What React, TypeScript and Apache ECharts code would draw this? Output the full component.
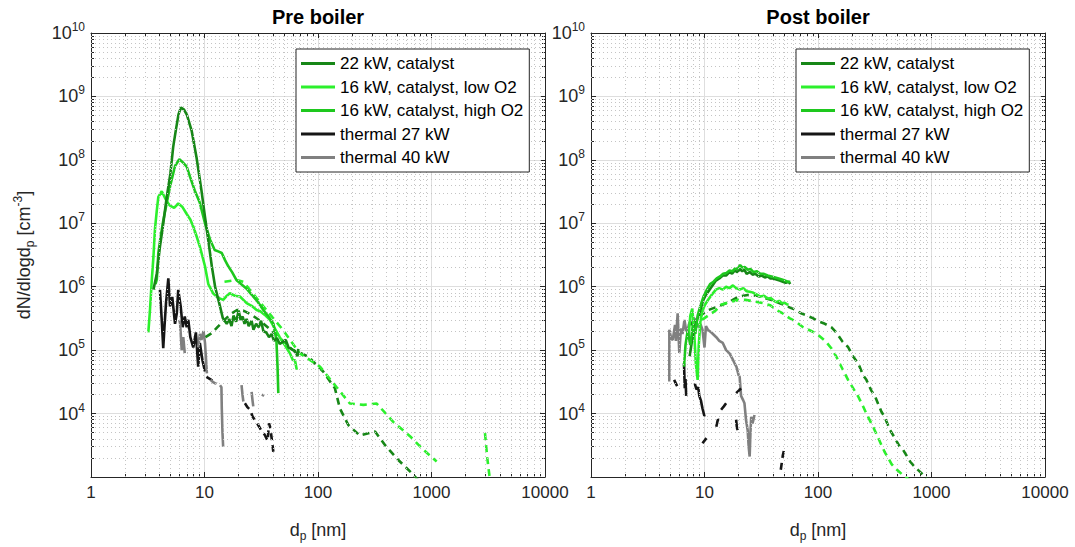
import React, { useEffect, useRef } from "react";
import * as echarts from "echarts";

type Pt = [number, number] | null;

const FONT = "'Liberation Sans', Arial, Helvetica, sans-serif";

// Axis decades and minor grid multipliers
const xTicks = [1, 10, 100, 1000, 10000];
const yTicks = [1e3, 1e4, 1e5, 1e6, 1e7, 1e8, 1e9, 1e10];
const minorSteps = [2, 3, 4, 5, 6, 7, 8, 9];

const panelTitles = ["Pre boiler", "Post boiler"];
const legendNames = [
  "22 kW, catalyst",
  "16 kW, catalyst, low O2",
  "16 kW, catalyst, high O2",
  "thermal 27 kW",
  "thermal 40 kW",
];
const lineColors = ["#178717", "#2cf02c", "#1ec81e", "#161616", "#808080"];

// ---------- Pre boiler: [d_p (nm), dN/dlogd_p (cm^-3)] ----------
const pre22Solid: Pt[] = [
  [3.55, 9e5], [3.8, 1.6e6], [4.05, 4.3e6], [4.3, 9e6], [4.65, 2.6e7], [5.0, 6e7], [5.3, 1.6e8],
  [5.6, 3e8], [5.9, 5.2e8], [6.2, 6.7e8], [6.6, 6.2e8], [7.0, 5.1e8], [7.7, 2.9e8], [8.5, 1.1e8],
  [9.4, 3.3e7], [10.1, 1.26e7], [10.8, 5.4e6], [11.6, 2.1e6], [12.4, 1e6], [13.7, 4.9e5],
  [14.5, 3.2e5], [15.7, 2.6e5], [16.5, 3.1e5], [17.3, 2.4e5], [18, 3.5e5], [19, 2.8e5],
  [20, 4.2e5], [20.8, 3e5], [21.7, 3.4e5], [22.5, 2.6e5], [23.5, 3.1e5], [24.5, 2.4e5],
  [26, 2.9e5], [27, 2.1e5], [28.5, 2.6e5], [30, 2.3e5], [31.5, 2.9e5], [33, 2e5], [35, 1.9e5],
  [37, 1.6e5], [39, 1.8e5], [41, 1.4e5], [43.5, 1.55e5], [46, 1.25e5], [49, 1.35e5],
  [52, 1.45e5], [55, 1.1e5], [58, 1.05e5], [61, 1e5], [64, 9e4], [66, 8e4], [67, 1.05e5],
];
const pre16LowSolid: Pt[] = [
  [3.2, 1.9e5], [3.3, 4e5], [3.43, 1.25e6], [3.55, 3e6], [3.66, 8e6], [3.8, 1.6e7], [3.92, 2.6e7],
  [4.2, 3.2e7], [4.49, 2.5e7], [4.75, 2.1e7], [4.97, 1.9e7], [5.4, 1.75e7], [5.87, 2.05e7],
  [6.4, 1.8e7], [6.97, 1.4e7], [7.5, 1.15e7], [7.96, 8.9e6], [8.5, 6.3e6], [9.1, 4.3e6],
  [10.1, 2.1e6], [10.8, 1.1e6], [11.9, 7.9e5], [13, 6.8e5], [14.6, 6.2e5], [15.5, 7e5],
  [16.7, 7.9e5], [18.5, 7.2e5], [20.5, 7e5], [22, 6.2e5], [23.5, 5.5e5], [26, 5e5],
  [28.8, 4.3e5], [31, 4.1e5], [34, 3.6e5], [37.7, 3e5], [41, 2.3e5], [46, 1.6e5], [51, 1.2e5],
  [56.6, 8.9e4], [60, 7e4], [62.7, 6.9e4], [65, 4.9e4],
];
const pre16HighSolid: Pt[] = [
  [3.7, 1.1e6], [3.8, 1.3e6], [3.92, 3.4e6], [4.1, 6e6], [4.33, 1.1e7], [4.6, 1.9e7],
  [4.97, 3.8e7], [5.5, 8e7], [6.0, 1.02e8], [6.5, 9e7], [6.97, 7.8e7], [7.46, 5.4e7],
  [8.2, 3.3e7], [9.1, 2.1e7], [10.1, 1e7], [11.2, 5.5e6], [12.3, 3.8e6], [13.2, 3.6e6],
  [14.2, 3.4e6], [15.2, 2.6e6], [16.2, 2.1e6], [17.5, 1.7e6], [19.2, 1.26e6], [21, 1.1e6],
  [23.5, 9.3e5], [26, 7.5e5], [28.8, 6.1e5], [33, 4.3e5], [37, 3.3e5], [40.5, 2.6e5],
  [43, 1.45e5], [44, 5.5e4], [44.7, 2.1e4],
];
const pre27Solid: Pt[] = [
  [4.05, 8.9e5], [4.2, 3e5], [4.33, 1.07e5], [4.45, 2.5e5], [4.58, 5.5e5], [4.8, 1.35e6],
  [4.97, 4.9e5], [5.2, 6.9e5], [5.5, 2.6e5], [5.7, 3.8e5], [5.87, 8.9e5], [6.17, 4.9e5],
  [6.42, 2.3e5], [6.7, 3.4e5], [6.97, 2.3e5], [7.2, 3e5], [7.5, 1.6e5], [7.96, 1.1e5],
  [8.4, 1.9e5], [8.8, 5.5e4], [9.1, 1.3e5], [9.6, 6.9e4], [10.1, 4.6e4],
];
const pre40Solid: Pt[] = [
  [6.0, 3e5], [6.1, 2.6e5], [6.3, 1e5], [6.5, 1.6e5], [6.7, 9e4], null,
  [8.8, 1.1e5], [9.1, 1.8e5], [9.4, 1.45e5], [9.8, 2e5], [10.1, 1.3e5], [10.5, 4.3e4], null,
  [13.7, 2.8e4], [14.1, 2.6e4], [14.2, 1.2e4], [14.4, 5e3], [14.6, 3e3], null,
  [21.2, 2.8e4], [21.6, 2e4], [22, 1.55e4], null,
  [26, 2.2e4], [26.5, 1.6e4], [26.9, 1.3e4],
];
const pre22Dash: Pt[] = [
  [10.2, 1.6e5], [11.6, 1.85e5], [13, 2.3e5], [15, 3e5], [17, 3.7e5], [19.5, 4.3e5], [22, 4.2e5],
  [26, 3.6e5], [31, 2.9e5], [37, 2.2e5], [44, 1.7e5], [52, 1.25e5], [60, 1e5], [70, 9e4],
  [82, 7.9e4], [111, 4.6e4], [141, 2.5e4], [156, 1.2e4], [185, 6.6e3], [234, 4.5e3],
  [318, 5.2e3], [389, 3.2e3], [510, 1.85e3], [670, 1.15e3], [760, 9e2],
];
const pre16LowDash: Pt[] = [
  [15, 1.2e6], [17.5, 1.25e6], [20, 1.25e6], [22, 1.2e6], [25, 9e5], [33, 4.9e5], [49, 2.1e5],
  [69, 8.9e4], [104, 5.5e4], [146, 2.6e4], [191, 1.44e4], [251, 1.37e4], [329, 1.44e4],
  [460, 7.4e3], [646, 4.4e3], [847, 2.7e3], [1110, 1.75e3], null,
  [2960, 4.9e3], [3100, 2e3], [3300, 8e2],
];
const pre27Dash: Pt[] = [
  [10.4, 3.8e4], [11.2, 3.5e4], [12, 3.2e4], [12.8, 3e4], null,
  [22.7, 1.45e4], [24, 1.25e4], [25.2, 1.15e4], [26.5, 9e3], [27.8, 7.9e3], [29.7, 6.6e3],
  [31.5, 5.5e3], [34, 4.6e3], [36, 3.7e3], [37, 7e3], [38, 6e3], [40.4, 2.5e3],
];
const pre40Dash: Pt[] = [
  [11.3, 3.4e4], [12, 3.1e4], [13.2, 2.8e4], null, [32, 2e4], [33.5, 1.9e4],
];

// ---------- Post boiler ----------
const post22Solid: Pt[] = [
  [7.4, 8e4], [7.8, 1.5e5], [8.2, 2.3e5], [8.7, 3.2e5], [9.2, 4.3e5], [9.7, 6e5], [10.3, 7.5e5],
  [11.1, 9e5], [11.8, 1.05e6], [12.6, 1.25e6], [13.5, 1.35e6], [14.5, 1.5e6], [15.5, 1.5e6],
  [16.6, 1.7e6], [17.5, 1.6e6], [18.5, 1.8e6], [19.5, 1.7e6], [20.5, 1.9e6], [21.5, 1.75e6],
  [22.5, 1.85e6], [23.5, 1.6e6], [25, 1.7e6], [26.5, 1.55e6], [28, 1.6e6], [30, 1.45e6],
  [32, 1.5e6], [34, 1.4e6], [36, 1.45e6], [38, 1.35e6], [40, 1.35e6], [43, 1.3e6],
  [46, 1.25e6], [49, 1.2e6], [52, 1.15e6], [55, 1.2e6], [57, 1.1e6],
];
const post16HighSolid: Pt[] = [
  [6.6, 5.5e4], [6.8, 1.2e5], [7.1, 2e5], [7.5, 1.2e5], [7.9, 2.5e5], [8.3, 1.8e5], [8.7, 3.5e5],
  [9.2, 5e5], [9.8, 7e5], [10.5, 9e5], [11.2, 1.1e6], [12, 1.2e6], [12.8, 1.35e6], [13.7, 1.45e6],
  [14.6, 1.6e6], [15.6, 1.65e6], [16.6, 1.8e6], [17.6, 1.75e6], [18.6, 1.95e6], [19.6, 1.9e6],
  [20.6, 2.2e6], [21.6, 2e6], [22.6, 2.05e6], [24, 1.85e6], [25.5, 1.9e6], [27, 1.7e6],
  [29, 1.75e6], [31, 1.6e6], [33, 1.6e6], [36, 1.5e6], [39, 1.45e6], [42, 1.4e6], [45, 1.35e6],
  [48, 1.3e6], [51, 1.25e6], [54, 1.2e6], [57, 1.2e6],
];
const post16LowSolid: Pt[] = [
  [7.2, 1.5e5], [7.5, 3.5e5], [7.8, 4.5e5], [8.1, 2e5], [8.4, 6e4], [8.7, 3.4e4], [8.9, 1.2e5],
  [9.2, 2.8e5], [9.6, 4.2e5], [10.1, 5.2e5], [10.8, 6.3e5], [11.6, 7.5e5], [12.6, 9e5],
  [13.5, 9.5e5], [14.5, 9e5], [15.5, 1e6], [16.6, 9.5e5], [17.8, 1.05e6], [19, 9.5e5],
  [20.4, 9e5], [22, 9.5e5], [23.5, 8.5e5], [25, 8.3e5], [27, 8e5], [29, 7.5e5], [31, 7e5],
  [33.5, 7.2e5], [36, 6.5e5], [38.5, 6.6e5], [41, 6e5], [43, 5.7e5], [45.5, 6e5], [48, 5.5e5],
  [50.5, 5.6e5], [53, 5.3e5], [55, 5.2e5],
];
const post27Solid: Pt[] = [
  [6.6, 6.2e4], [6.7, 2.5e4], [6.8, 3.5e4], [6.9, 1.9e4], null,
  [8.2, 3e4], [8.5, 2.4e4], [8.8, 2.6e4], [9.0, 1.9e4], [9.3, 1.6e4], [9.6, 1.2e4], [10, 9e3], null,
  [12.7, 6.2e3], [13.1, 8e3], [13.5, 7.9e3], null,
  [14, 1.15e4], [14.8, 1.3e4], [15.5, 1.45e4], null,
  [19, 8e3], [19.3, 6e3], [19.6, 5.5e3],
];
const post40Solid: Pt[] = [
  [4.9, 3.2e4], [4.9, 2.1e5], [5.1, 1.5e5], [5.25, 1.45e5], [5.5, 2.5e5], [5.6, 1.4e5],
  [5.8, 3.8e5], [6.0, 9e4], [6.2, 2.2e5], [6.4, 1.8e5], [6.66, 3e5], [6.9, 2e5], [7.1, 2.1e5],
  [7.4, 2.8e5], [7.6, 2.5e5], [8.0, 3.2e5], [8.4, 3e5], [8.8, 2.3e5], [9.2, 2.6e5], [9.6, 2.1e5],
  [10, 1.1e5], [10.3, 2.4e5], [10.7, 2.1e5], [11.5, 1.9e5], [12.7, 1.6e5], [13.5, 1.4e5],
  [14.5, 1.3e5], [15.5, 1e5], [16.6, 8.9e4], [17.5, 7.5e4], [18.4, 6.2e4], [19.1, 5.5e4],
  [20, 4e4], [20.4, 3.8e4], [21, 1.9e4], [22, 1.6e4], [22.5, 1.45e4], [23.2, 8e3], [24, 5.5e3],
  [24.5, 3e3], [25, 2.1e3], [25.4, 5e3], [25.8, 8.9e3], [26.5, 7e3], [27.6, 9.5e3],
];
const post22Dash: Pt[] = [
  [7.5, 2.5e5], [9, 3.4e5], [10.5, 4.2e5], [12, 4.6e5], [14, 5.1e5], [16.6, 5.8e5], [20, 7e5],
  [24, 7.4e5], [29, 7.2e5], [34, 6.6e5], [39, 6.2e5], [46, 5.5e5], [51, 5.1e5], [58, 4.6e5],
  [64, 4.3e5], [71, 3.8e5], [80, 3.5e5], [90, 3.2e5], [103, 2.8e5], [115, 2.6e5], [131, 2.3e5],
  [145, 1.9e5], [165, 1.35e5], [184, 1.12e5], [203, 8e4], [226, 6.2e4], [250, 4e4],
  [267, 3.4e4], [295, 2.3e4], [317, 1.9e4], [362, 1.07e4], [386, 8.9e3], [431, 5.5e3],
  [458, 4.6e3], [525, 3e3], [560, 2.7e3], [650, 1.74e3], [710, 1.45e3], [815, 1.15e3],
  [900, 9.5e2],
];
const post16LowDash: Pt[] = [
  [8, 2.2e5], [9.5, 3e5], [11, 3.6e5], [12.5, 4.2e5], [14, 5.2e5], [16, 5.6e5], [20, 6.2e5],
  [23, 6.2e5], [28, 5.8e5], [33, 5.5e5], [38, 5.1e5], [43, 4.3e5], [49, 3.8e5], [56, 3.2e5],
  [64, 2.8e5], [74, 2.3e5], [90, 1.95e5], [100, 1.74e5], [118, 1.35e5], [131, 1.07e5],
  [145, 7.9e4], [155, 6.2e4], [172, 4.3e4], [184, 3.4e4], [210, 2.3e4], [226, 1.86e4],
  [250, 1.29e4], [267, 1e4], [305, 6.2e3], [325, 4.9e3], [362, 3.2e3], [386, 2.5e3],
  [445, 1.6e3], [475, 1.4e3], [560, 1.07e3], [640, 9e2],
];
const post27Dash: Pt[] = [
  [5.4, 3.4e4], [5.8, 2.6e4], null, [9.6, 3.4e3], [10.4, 4.1e3], null,
  [19, 2.1e4], [21, 2.5e4], null, [47, 1.3e3], [49, 2.2e3], [51, 3e3],
];

const minorX = xTicks.slice(0, -1).flatMap((t) => minorSteps.map((m) => t * m));
const minorY = yTicks.slice(0, -1).flatMap((t) => minorSteps.map((m) => t * m));

const toData = (pts: Pt[]) => pts.map((p) => (p ? p : ["-", "-"]));

const AXIS_COLOR = "#262626";
const TICK_FONT = 17;

function curve(idx: number, pts: Pt[], dashed: boolean, panel: number) {
  return {
    type: "line",
    name: legendNames[idx],
    xAxisIndex: panel * 2,
    yAxisIndex: panel * 2,
    data: toData(pts),
    symbol: "none",
    showSymbol: false,
    connectNulls: false,
    silent: true,
    z: 3,
    color: lineColors[idx],
    itemStyle: { color: lineColors[idx] },
    lineStyle: { color: lineColors[idx], width: 2.6, type: dashed ? [7, 5] : "solid" },
  };
}

function gridSeries(panel: number) {
  return {
    type: "line",
    name: "minor-grid-" + panel,
    xAxisIndex: panel * 2,
    yAxisIndex: panel * 2,
    data: [],
    z: 1,
    silent: true,
    markLine: {
      silent: true,
      symbol: ["none", "none"],
      label: { show: false },
      animation: false,
      lineStyle: { color: "#c4c4c4", type: [1, 3], width: 1 },
      data: [
        ...minorX.map((v) => ({ xAxis: v })),
        ...minorY.map((v) => ({ yAxis: v })),
      ],
    },
  };
}

const grids = [
  { left: 91, top: 33, width: 454, height: 444 },
  { left: 591, top: 33, width: 454, height: 444 },
];

const tickCommon = {
  axisLine: { show: true, lineStyle: { color: AXIS_COLOR, width: 1 } },
  axisTick: { show: true, inside: true, length: 5, lineStyle: { color: AXIS_COLOR } },
  minorTick: { show: true, splitNumber: 9, length: 3, lineStyle: { color: AXIS_COLOR } },
};

function xAxes(panel: number) {
  const base = {
    type: "log",
    logBase: 10,
    min: 1,
    max: 10000,
    gridIndex: panel,
    splitNumber: 10,
    ...tickCommon,
  };
  return [
    {
      ...base,
      position: "bottom",
      axisLabel: {
        show: true,
        fontSize: TICK_FONT,
        color: AXIS_COLOR,
        fontFamily: FONT,
        margin: 7,
        formatter: (v: number) => String(Math.round(v)),
      },
      splitLine: { show: true, lineStyle: { color: "#dedede", width: 1 } },
      name: "{a|d}{s|p}{a| [nm]}",
      nameLocation: "middle",
      nameGap: 40,
      nameTextStyle: {
        rich: {
          a: { fontSize: 18, color: AXIS_COLOR, fontFamily: FONT },
          s: { fontSize: 12, color: AXIS_COLOR, fontFamily: FONT, padding: [13, 0, 0, 0] },
        },
      },
    },
    {
      ...base,
      position: "top",
      axisLabel: { show: false },
      splitLine: { show: false },
    },
  ];
}

function yAxes(panel: number) {
  const base = {
    type: "log",
    logBase: 10,
    min: 1e3,
    max: 1e10,
    gridIndex: panel,
    splitNumber: 10,
    ...tickCommon,
  };
  const left: any = {
    ...base,
    position: "left",
    axisLabel: {
      show: true,
      margin: 6,
      formatter: (v: number) => {
        const e = Math.round(Math.log10(v));
        return e < 4 ? "" : `{b|10}{s|${e}}`;
      },
      rich: {
        b: { fontSize: 18, color: AXIS_COLOR, fontFamily: FONT },
        s: { fontSize: 12, color: AXIS_COLOR, fontFamily: FONT, padding: [0, 0, 12, 0] },
      },
    },
    splitLine: { show: true, lineStyle: { color: "#dedede", width: 1 } },
  };
  if (panel === 0) {
    left.name = "{a|dN/dlogd}{s|p}{a| [cm}{u|-3}{a|]}";
    left.nameLocation = "middle";
    left.nameGap = 55;
    left.nameRotate = 90;
    left.nameTextStyle = {
      rich: {
        a: { fontSize: 18, color: AXIS_COLOR, fontFamily: FONT },
        s: { fontSize: 12, color: AXIS_COLOR, fontFamily: FONT, padding: [13, 0, 0, 0] },
        u: { fontSize: 12, color: AXIS_COLOR, fontFamily: FONT, padding: [0, 0, 12, 0] },
      },
    };
  }
  return [
    left,
    { ...base, position: "right", axisLabel: { show: false }, splitLine: { show: false } },
  ];
}

function legendFor(left: number) {
  return {
    data: legendNames,
    orient: "vertical",
    left,
    top: 49,
    icon: "rect",
    itemWidth: 34,
    itemHeight: 3,
    itemGap: 4.5,
    padding: [5, 6, 5, 5],
    borderColor: AXIS_COLOR,
    borderWidth: 1,
    borderRadius: 0,
    backgroundColor: "#ffffff",
    selectedMode: false,
    z: 10,
    textStyle: { fontSize: 17, color: "#000000", fontFamily: FONT, lineHeight: 19 },
  };
}

export default function App() {
  const ref = useRef<HTMLDivElement>(null);

  useEffect(() => {
    if (!ref.current) return;
    const chart = echarts.init(ref.current, null, { renderer: "svg" });

    const series: any[] = [
      gridSeries(0),
      gridSeries(1),
      // Pre boiler
      curve(3, pre27Solid, false, 0),
      curve(4, pre40Solid, false, 0),
      curve(3, pre27Dash, true, 0),
      curve(4, pre40Dash, true, 0),
      curve(0, pre22Dash, true, 0),
      curve(1, pre16LowDash, true, 0),
      curve(1, pre16LowSolid, false, 0),
      curve(2, pre16HighSolid, false, 0),
      curve(0, pre22Solid, false, 0),
      // Post boiler
      curve(4, post40Solid, false, 1),
      curve(3, post27Solid, false, 1),
      curve(3, post27Dash, true, 1),
      curve(0, post22Dash, true, 1),
      curve(1, post16LowDash, true, 1),
      curve(1, post16LowSolid, false, 1),
      curve(0, post22Solid, false, 1),
      curve(2, post16HighSolid, false, 1),
    ];

    chart.setOption({
      animation: false,
      backgroundColor: "#ffffff",
      textStyle: { fontFamily: FONT },
      grid: grids,
      xAxis: [...xAxes(0), ...xAxes(1)],
      yAxis: [...yAxes(0), ...yAxes(1)],
      legend: [legendFor(296), legendFor(796)],
      graphic: panelTitles.map((t, i) => ({
        type: "text",
        x: grids[i].left + grids[i].width / 2,
        y: 17,
        style: {
          text: t,
          font: `bold 20px ${FONT}`,
          fill: "#000000",
          align: "center",
          verticalAlign: "middle",
          textAlign: "center",
          textVerticalAlign: "middle",
        },
      })),
      series,
    });

    return () => chart.dispose();
  }, []);

  return (
    <div
      ref={ref}
      style={{ position: "fixed", left: 0, top: 0, width: 1075, height: 547, background: "#fff" }}
    />
  );
}
